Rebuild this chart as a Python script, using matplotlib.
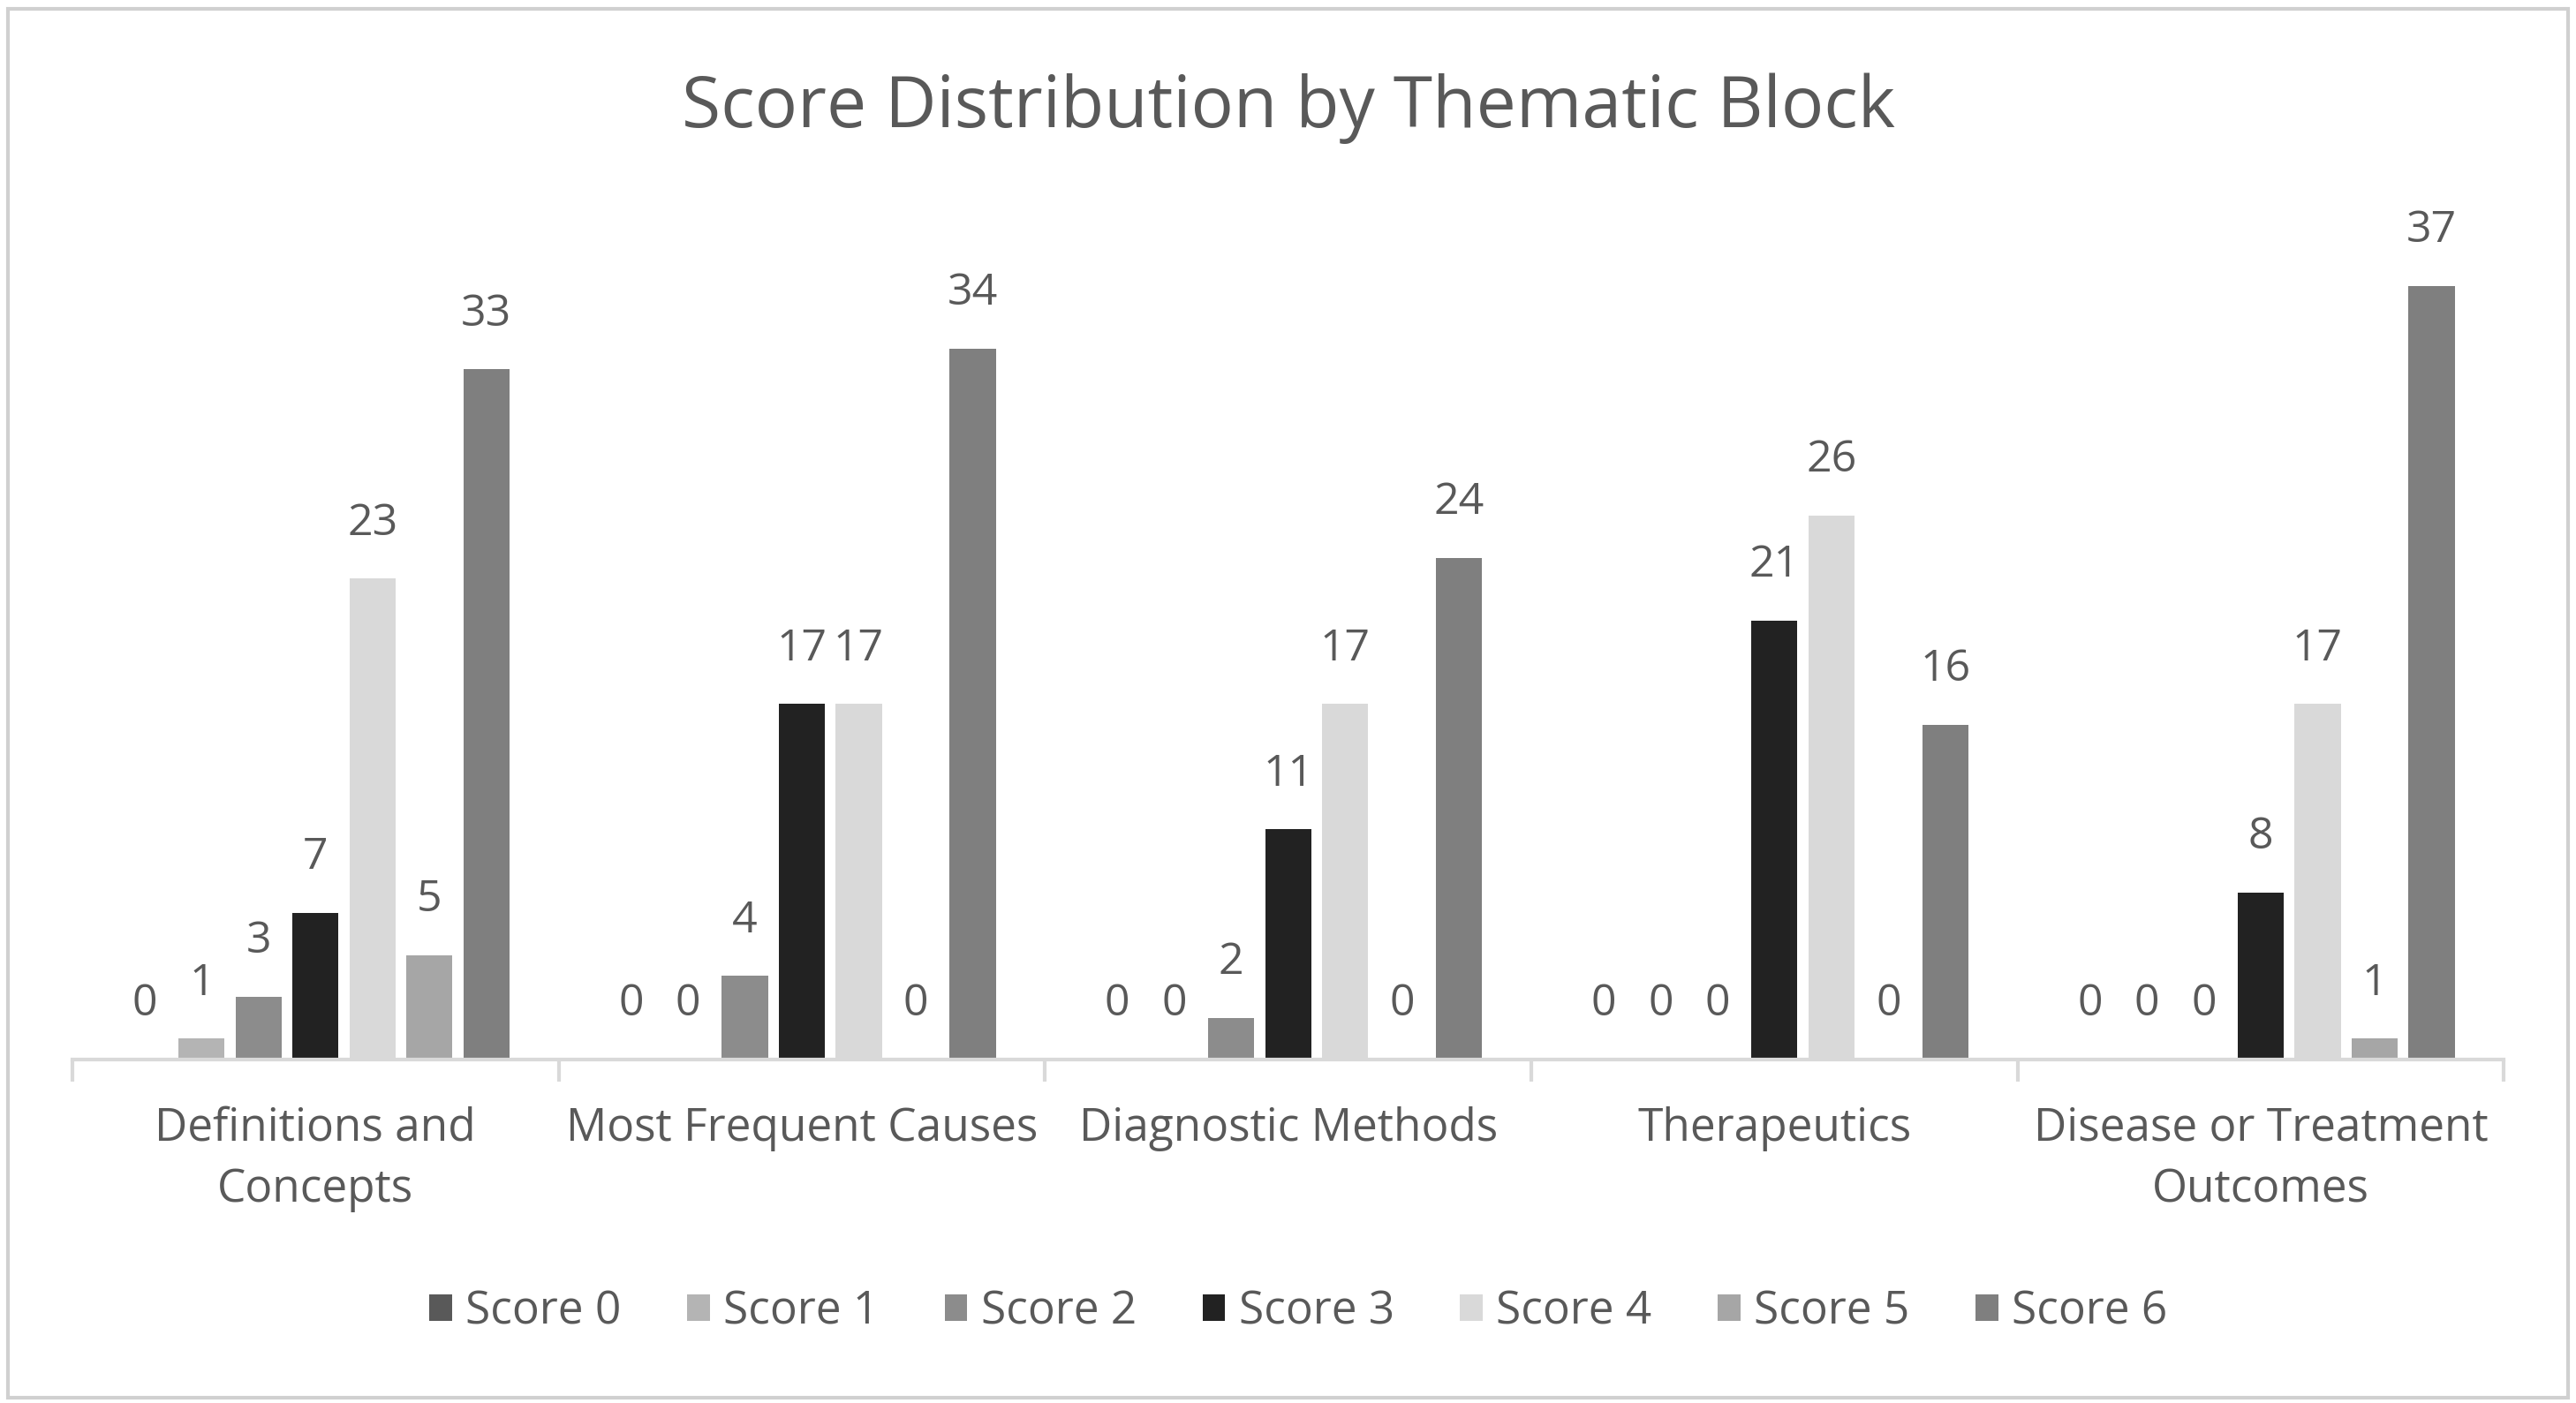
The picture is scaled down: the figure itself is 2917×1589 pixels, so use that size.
import numpy as np
import matplotlib.pyplot as plt
from matplotlib.patches import Rectangle

# Datos del grafico
bloques = ['Definitions and\nConcepts', 'Most Frequent Causes', 'Diagnostic Methods',
           'Therapeutics', 'Disease or Treatment\nOutcomes']
series = ['Score 0', 'Score 1', 'Score 2', 'Score 3', 'Score 4', 'Score 5', 'Score 6']
score0 = [0, 0, 0, 0, 0]
score1 = [1, 0, 0, 0, 0]
score2 = [3, 4, 2, 0, 0]
score3 = [7, 17, 11, 21, 8]
score4 = [23, 17, 17, 26, 17]
score5 = [5, 0, 0, 0, 1]
score6 = [33, 34, 24, 16, 37]
valores = [score0, score1, score2, score3, score4, score5, score6]
colores = ['#595959', '#b4b4b4', '#8c8c8c', '#222222', '#d9d9d9', '#a6a6a6', '#7f7f7f']

plt.rcParams['font.family'] = ['Open Sans', 'DejaVu Sans']
gris = '#595959'

fig = plt.figure(figsize=(29.17, 15.89), dpi=100)
ax = fig.add_axes([0.0281, 0.2448, 0.9439, 0.5962])

x = np.arange(len(bloques))
slot = 0.82 / 7
ancho = slot * 0.81
for i, (nombre, vals, c) in enumerate(zip(series, valores, colores)):
    pos = x + (i - 3) * slot
    ax.bar(pos, vals, ancho, color=c, label=nombre)
    for px, v in zip(pos, vals):
        ax.annotate(str(v), (px, v), xytext=(0, 45), textcoords='offset points',
                    ha='center', va='center', fontsize=36, color=gris)

ax.set_xlim(-0.5, len(bloques) - 0.5)
ax.set_ylim(0, 40)
ax.set_yticks([])
for lado in ['top', 'right', 'left']:
    ax.spines[lado].set_visible(False)
ax.spines['bottom'].set_color('#d9d9d9')
ax.spines['bottom'].set_linewidth(3)

ax.set_xticks(x)
ax.set_xticklabels(bloques, fontsize=37, color=gris, linespacing=1.47)
ax.tick_params(axis='x', length=0, pad=38)
ax.set_xticks(np.arange(len(bloques) + 1) - 0.5, minor=True)
ax.tick_params(axis='x', which='minor', length=18, width=3, color='#d9d9d9')

fig.suptitle('Score Distribution by Thematic Block', fontsize=58, color=gris, y=0.948)

fig.legend(loc='center', bbox_to_anchor=(0.504, 0.065), ncol=7, frameon=False,
           fontsize=37, labelcolor=gris, handlelength=0.5, handleheight=0.5,
           handletextpad=0.3, columnspacing=1.45)

fig.patches.append(Rectangle((0.003, 0.004), 0.994, 0.99, transform=fig.transFigure,
                             fill=False, edgecolor='#d0d0d0', linewidth=3))

fig.savefig('out.png', dpi=100)
